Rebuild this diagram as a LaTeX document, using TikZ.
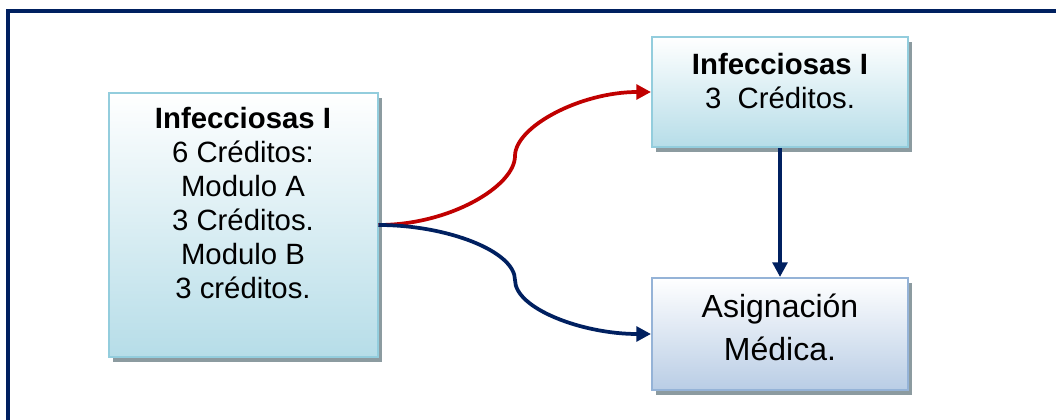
\documentclass[tikz,border=0pt]{standalone}
\usepackage{fontspec}
\setmainfont{Liberation Sans}
\usepackage{tikz}
\usetikzlibrary{arrows.meta,positioning,shadows,calc}
\definecolor{framenavy}{RGB}{0,32,96}
\definecolor{arrred}{RGB}{192,0,0}
\definecolor{aqualine}{RGB}{147,205,221}
\definecolor{aquafill}{RGB}{182,221,232}
\definecolor{steelline}{RGB}{149,179,215}
\definecolor{steelfill}{RGB}{185,205,229}
\definecolor{shadowgray}{RGB}{140,155,160}
\tikzstyle{block} = [draw=aqualine, line width=1.5pt, rectangle, top color=white, bottom color=aquafill, drop shadow={shadow xshift=3pt, shadow yshift=-3.5pt, fill=shadowgray, opacity=1}]
\tikzstyle{blockB} = [block, draw=steelline, bottom color=steelfill]
\tikzstyle{label} = [align=center, inner sep=0pt, anchor=north]
\tikzstyle{line} = [draw, line width=2.8pt, -{Triangle[length=11pt,width=11pt]}]

\begin{document}
\begin{tikzpicture}[x=0.75pt, y=-0.75pt]
    \clip (0,0) rectangle (1056,420);
    % Frame
    \draw [framenavy, line width=3pt] (8,11) rectangle (1120,480);

    % Nodes
    \node [block, minimum width=201.75pt, minimum height=198pt] (infec) at (243,225) {};
    \node [block, minimum width=192pt, minimum height=82.5pt] (infecA) at (780,92) {};
    \node [blockB, minimum width=192pt, minimum height=84pt] (asig) at (780,334) {};

    \node [label, font=\fontsize{22}{25.5}\selectfont] (infectxt) at ($(infec.north)+(0,15)$)
        {\textbf{Infecciosas I}\\6 Créditos:\\Modulo A\\3 Créditos.\\Modulo B\\3 créditos.};
    \node [label, font=\fontsize{22}{25.5}\selectfont] (infecAtxt) at ($(infecA.north)+(0,17)$)
        {\textbf{Infecciosas I}\\3~~Créditos.};
    \node [label, font=\fontsize{24}{32}\selectfont] (asigtxt) at ($(asig.north)+(0,17)$)
        {Asignación\\Médica.};

    \coordinate (redmid) at (515,156);
    \coordinate (bluemid) at (515,280);

    % Paths
    \path [line, arrred] (infec.east) to[out=0,in=-90,out looseness=1.2,in looseness=0.5] (redmid)
        to[out=90,in=180,out looseness=0.5,in looseness=1.2] (infecA.west);
    \path [line, framenavy] (infec.east) to[out=0,in=90,out looseness=1.2,in looseness=0.5] (bluemid)
        to[out=-90,in=180,out looseness=0.5,in looseness=1.2] (asig.west);
    \path [line, framenavy] (infecA.south) -- (asig.north);
\end{tikzpicture}
\end{document}
